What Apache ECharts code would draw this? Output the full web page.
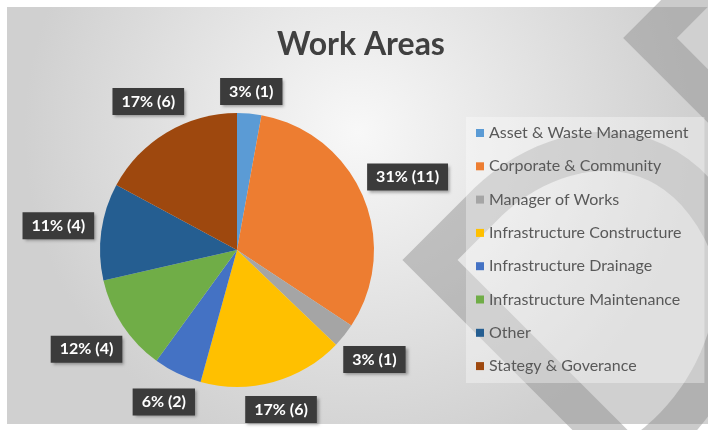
<!DOCTYPE html>
<html>
<head>
    <meta charset="utf-8"/>
    <script type="text/javascript" src="https://cdn.jsdelivr.net/npm/echarts@6/dist/echarts.min.js"></script>
    <style>
        body { margin: 0; background: #ffffff; }
        #main { width: 708px; height: 430px; }
    </style>
</head>
<body>
<div id="main"></div>
<script type="text/javascript">
    // data
    var categories = ['Asset & Waste Management', 'Corporate & Community', 'Manager of Works',
        'Infrastructure Constructure', 'Infrastructure Drainage', 'Infrastructure Maintenance',
        'Other', 'Stategy & Goverance'];
    var counts = [1, 11, 1, 6, 2, 4, 4, 6];
    var percentLabels = ['3%', '31%', '3%', '17%', '6%', '12%', '11%', '17%'];
    var colors = ['#5B9BD5', '#ED7D31', '#A5A5A5', '#FFC000', '#4472C4', '#70AD47', '#255E91', '#9E480E'];

    var pieCenter = [237, 250];
    var pieRadius = 137;
    var total = 0;
    for (var i = 0; i < counts.length; i++) total += counts[i];

    // place label box just outside the slice, like "outside end"
    function labelPos(idx, w, h) {
        var before = 0;
        for (var k = 0; k < idx; k++) before += counts[k];
        var a = (before + counts[idx] / 2) / total * Math.PI * 2;
        var sx = Math.sin(a), sy = -Math.cos(a);
        var d = pieRadius + 6 + Math.abs(w / 2 * sx) + Math.abs(h / 2 * sy);
        return [pieCenter[0] + d * sx, pieCenter[1] + d * sy];
    }

    // background watermark: sample cubic curves into one polyline
    function cubic(pts, p0, c1, c2, p3) {
        for (var t = 1; t <= 24; t++) {
            var s = t / 24, u = 1 - s;
            pts.push([
                u * u * u * p0[0] + 3 * u * u * s * c1[0] + 3 * u * s * s * c2[0] + s * s * s * p3[0],
                u * u * u * p0[1] + 3 * u * u * s * c1[1] + 3 * u * s * s * c2[1] + s * s * s * p3[1]
            ]);
        }
    }
    var bigMark = [[620, 450], [430, 260], [480, 210]];
    cubic(bigMark, [480, 210], [540, 145], [660, 112], [722, 230]);
    cubic(bigMark, [722, 230], [758, 300], [715, 405], [640, 455]);
    var smallMark = [[700, -12], [650, 38], [745, 133]];

    var pieData = [];
    for (var j = 0; j < categories.length; j++) {
        pieData.push({name: categories[j], value: counts[j]});
    }

    var myChart = echarts.init(document.getElementById('main'));

    var option = {
        color: colors,
        animation: false,
        textStyle: {fontFamily: 'Lato'},
        graphic: [
            {
                type: 'rect', z: -10, silent: true,
                shape: {x: 7, y: 7, width: 701, height: 417},
                style: {
                    fill: {
                        type: 'radial', x: 0.5, y: 0.3, r: 0.8,
                        colorStops: [{offset: 0, color: '#f8f8f8'}, {offset: 1, color: '#d0d0d0'}]
                    }
                }
            },
            {
                type: 'polyline', z: -9, silent: true,
                shape: {points: bigMark},
                style: {fill: null, stroke: 'rgba(140,140,140,0.45)', lineWidth: 39, lineJoin: 'miter'}
            },
            {
                type: 'polyline', z: -9, silent: true,
                shape: {points: smallMark},
                style: {fill: null, stroke: 'rgba(140,140,140,0.45)', lineWidth: 38, lineJoin: 'miter'}
            }
        ],
        title: {
            text: 'Work Areas',
            left: 277,
            top: 29,
            padding: 0,
            textStyle: {fontFamily: 'Lato', fontSize: 32, fontWeight: 'bold', color: '#404040'}
        },
        legend: {
            orient: 'vertical',
            left: 466,
            top: 117,
            padding: [7, 16, 8, 10],
            backgroundColor: 'rgba(255,255,255,0.35)',
            itemWidth: 8,
            itemHeight: 8,
            itemGap: 15.3,
            icon: 'rect',
            data: categories,
            textStyle: {fontFamily: 'Lato', fontSize: 16, color: '#595959', lineHeight: 18}
        },
        series: [{
            name: 'Work Areas',
            type: 'pie',
            center: pieCenter,
            radius: pieRadius,
            startAngle: 90,
            clockwise: true,
            data: pieData,
            itemStyle: {borderWidth: 0},
            labelLine: {show: false, length: 0, length2: 0},
            label: {
                show: true,
                position: 'outside',
                overflow: 'none',
                formatter: function (p) {
                    return percentLabels[p.dataIndex] + ' (' + p.value + ')';
                },
                fontFamily: 'Lato',
                fontSize: 16,
                fontWeight: 'bold',
                color: '#ffffff',
                backgroundColor: '#3b3b3b',
                padding: [6, 9, 5, 9],
                shadowColor: 'rgba(0,0,0,0.35)',
                shadowBlur: 3,
                shadowOffsetX: 2,
                shadowOffsetY: 2
            },
            labelLayout: function (params) {
                var p = labelPos(params.dataIndex, params.labelRect.width, params.labelRect.height);
                return {x: p[0], y: p[1], align: 'center', verticalAlign: 'middle'};
            }
        }]
    };
    myChart.setOption(option);
</script>
</body>
</html>
